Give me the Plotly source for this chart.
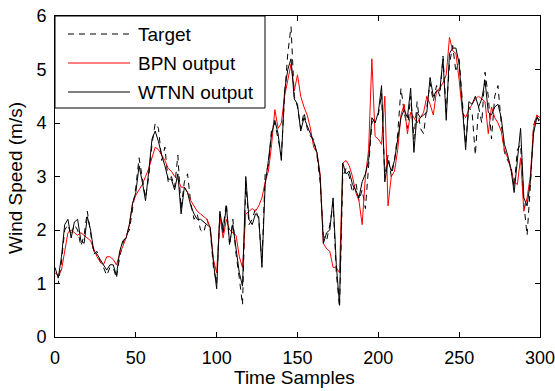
import plotly.graph_objects as go

# time sample positions (every 2nd sample)
time_samples = list(range(0, 301, 2))

target = [1.0, 1.0, 1.4, 2.0, 2.1, 1.9, 2.1, 2.0, 1.7, 1.9,
          2.35, 1.9, 1.55, 1.6, 1.4, 1.3, 1.15, 1.3, 1.3, 1.1,
          1.5, 1.75, 1.9, 2.0, 2.4, 2.8, 3.35, 2.95, 2.6, 3.0,
          3.6, 4.0, 3.9, 3.3, 3.55, 2.9, 3.0, 2.8, 3.4, 2.4,
          2.9, 3.05, 2.5, 2.2, 2.3, 2.0, 1.95, 2.2, 2.0, 1.3,
          1.0, 2.3, 2.05, 2.5, 1.7, 2.2, 1.55, 1.1, 0.6, 2.9,
          2.1, 2.2, 2.4, 2.2, 1.4, 3.05, 3.2, 3.9, 4.0, 3.7,
          3.4, 4.5, 5.3, 5.8, 4.5, 4.3, 3.9, 4.2, 3.9, 3.75,
          3.7, 3.4, 2.9, 1.9, 1.8, 2.1, 2.5, 1.2, 0.55, 3.0,
          3.15, 3.0, 2.7, 2.9, 2.55, 2.75, 2.4, 3.2, 4.0, 4.1,
          4.15, 4.55, 3.0, 3.4, 3.0, 3.3, 3.8, 4.65, 4.2, 3.9,
          4.5, 3.7, 4.4, 3.9, 3.8, 4.3, 4.75, 4.4, 4.7, 4.5,
          5.25, 4.2, 5.1, 5.45, 4.95, 5.2, 4.4, 3.6, 4.3, 4.2,
          3.4, 4.3, 4.0, 4.95, 4.5, 3.7, 4.5, 4.7, 4.0, 3.45,
          3.3, 3.2, 2.8, 3.5, 3.6, 2.5, 1.9, 2.8, 3.95, 4.15,
          3.95]

bpn_output = [1.2, 1.15, 1.25, 1.6, 1.95, 2.0, 1.95, 1.9, 1.95, 1.9,
              1.85, 1.8, 1.65, 1.5, 1.4, 1.35, 1.5, 1.5, 1.45, 1.35,
              1.55, 1.7, 1.85, 2.1, 2.5, 2.65, 2.75, 2.85, 3.0, 3.15,
              3.35, 3.55, 3.5, 3.4, 3.3, 3.15, 3.1, 3.0, 2.95, 2.8,
              2.8, 2.7, 2.55, 2.45, 2.35, 2.3, 2.25, 2.2, 2.05, 1.45,
              1.2, 2.25, 1.85, 2.2, 2.0, 1.95, 1.9, 1.5, 1.3, 2.3,
              2.35, 2.4, 2.35, 2.45, 2.6, 2.9, 3.1, 3.6, 4.25, 3.9,
              4.0, 4.5, 4.8, 5.1, 4.6, 4.9, 4.5, 4.3, 4.15, 3.9,
              3.55, 3.45, 3.05, 1.75, 1.65, 1.6, 1.3, 1.3, 1.2, 3.25,
              3.3, 3.2, 3.0, 2.7, 2.55, 2.1, 3.0, 3.5, 5.2, 3.75,
              3.7, 3.6, 4.5, 2.45, 3.0, 3.1, 3.5, 4.15, 4.35, 3.8,
              4.2, 4.1, 4.0, 4.1, 4.2, 4.5, 4.35, 4.15, 4.6, 4.65,
              4.75, 4.9, 5.6, 5.35, 5.3, 4.8, 4.2, 4.1, 4.25, 4.35,
              4.45, 4.5, 4.45, 4.4, 3.8, 4.3, 4.1, 4.0, 3.85, 3.5,
              3.35, 3.1, 2.9, 2.85, 3.35, 2.35, 2.6, 3.0, 3.9, 4.15,
              4.1]

wtnn_output = [1.3, 1.1, 1.5, 2.1, 2.2, 1.85, 2.15, 2.2, 1.8, 1.75,
               2.25, 2.0, 1.6, 1.55, 1.45, 1.35, 1.25, 1.35, 1.35, 1.15,
               1.6, 1.8, 1.85, 2.1, 2.5, 2.7, 3.2, 2.9, 2.55, 3.1,
               3.7, 3.85, 3.65, 3.4, 3.2, 2.95, 2.95, 2.75, 3.05, 2.3,
               2.8, 2.7, 2.45, 2.3, 2.2, 2.2, 2.15, 2.1, 2.05, 1.4,
               0.9, 2.35, 1.95, 2.45, 1.75, 2.1, 1.65, 1.2, 0.95, 3.0,
               2.2, 2.1, 2.3, 2.25, 1.3, 2.85, 3.3, 3.8, 4.05, 3.8,
               3.3, 4.6, 5.0, 5.2, 4.45, 4.35, 3.85, 4.1, 3.95, 3.8,
               3.65, 3.45, 3.0, 1.75, 1.95, 2.0, 2.6, 1.35, 0.6, 3.25,
               3.05, 3.1, 2.85, 2.75, 2.6, 2.9, 3.05, 3.3, 4.1, 4.0,
               4.2, 4.7, 2.9, 3.3, 3.1, 3.3, 3.75, 4.1, 4.25, 4.1,
               4.65, 3.45, 4.2, 4.1, 4.15, 4.2, 4.85, 4.5, 4.6, 4.6,
               5.2, 4.05, 5.3, 5.4, 5.4, 5.1, 4.3, 3.5, 4.4, 4.35,
               4.5, 4.3, 4.45, 4.8, 4.2, 4.15, 4.3, 4.35, 4.1, 3.6,
               3.4, 3.15, 2.7, 3.3, 3.9, 2.6, 2.45, 2.9, 3.8, 4.1,
               4.05]

x_ticks = [0, 50, 100, 150, 200, 250, 300]
y_ticks = [0, 1, 2, 3, 4, 5, 6]
series_names = ["Target", "BPN output", "WTNN output"]

FONT = "Liberation Sans, Arial, Helvetica, sans-serif"
TARGET_DASH = "6px,5px"

fig = go.Figure()
fig.add_trace(go.Scatter(x=time_samples, y=target, mode="lines", name=series_names[0],
                         line=dict(color="black", width=1, dash=TARGET_DASH)))
fig.add_trace(go.Scatter(x=time_samples, y=bpn_output, mode="lines", name=series_names[1],
                         line=dict(color="#ff0000", width=1)))
fig.add_trace(go.Scatter(x=time_samples, y=wtnn_output, mode="lines", name=series_names[2],
                         line=dict(color="black", width=1)))

axis_common = dict(showgrid=False, zeroline=False, showline=True, linecolor="black",
                   linewidth=1, mirror="ticks", ticks="inside", ticklen=5,
                   tickcolor="black", automargin=False, ticklabeloverflow="allow",
                   tickfont=dict(family=FONT, size=18, color="black"))

# plot area in pixels: x 55..540, y 16..337
L, R, T, B = 55, 15, 16, 54
W, H = 555, 391
pw, ph = W - L - R, H - T - B


def px_x(p):
    return (p - L) / pw


def px_y(p):
    return (H - B - p) / ph


shapes = []
annotations = []
# legend box (drawn above the data, like the original)
shapes.append(dict(type="rect", xref="paper", yref="paper", layer="above",
                   x0=px_x(55), x1=px_x(265), y0=px_y(108), y1=px_y(16),
                   fillcolor="white", line=dict(color="black", width=1)))
legend_styles = [dict(color="black", width=1, dash=TARGET_DASH),
                 dict(color="#ff0000", width=1),
                 dict(color="black", width=1)]
row_centres = [34, 63, 92]
for name, style, yc in zip(series_names, legend_styles, row_centres):
    shapes.append(dict(type="line", xref="paper", yref="paper", layer="above",
                       x0=px_x(68), x1=px_x(130), y0=px_y(yc), y1=px_y(yc), line=style))
    annotations.append(dict(text=name, xref="paper", yref="paper", x=px_x(136), y=px_y(yc),
                            xanchor="left", yanchor="middle", showarrow=False,
                            font=dict(family=FONT, size=19, color="black")))

# axis titles
annotations.append(dict(text="Time Samples", xref="paper", yref="paper",
                        x=px_x(294), y=px_y(378), xanchor="center", yanchor="middle",
                        showarrow=False, font=dict(family=FONT, size=19, color="black")))
annotations.append(dict(text="Wind Speed (m/s)", xref="paper", yref="paper",
                        x=px_x(15), y=px_y(178), xanchor="center", yanchor="middle",
                        textangle=-90, showarrow=False,
                        font=dict(family=FONT, size=19, color="black")))

fig.update_layout(
    width=W, height=H,
    margin=dict(l=L, r=R, t=T, b=B, autoexpand=False),
    paper_bgcolor="white", plot_bgcolor="white",
    font=dict(family=FONT, size=18, color="black"),
    xaxis=dict(range=[0, 300], tickvals=x_ticks, ticklabelstandoff=4, **axis_common),
    yaxis=dict(range=[0, 6], tickvals=y_ticks, ticklabelstandoff=4, **axis_common),
    showlegend=False,
    shapes=shapes,
    annotations=annotations,
)

fig.write_html("out.html", config={"displayModeBar": False},
               post_script="document.body.style.margin='0';document.body.style.padding='0';")
